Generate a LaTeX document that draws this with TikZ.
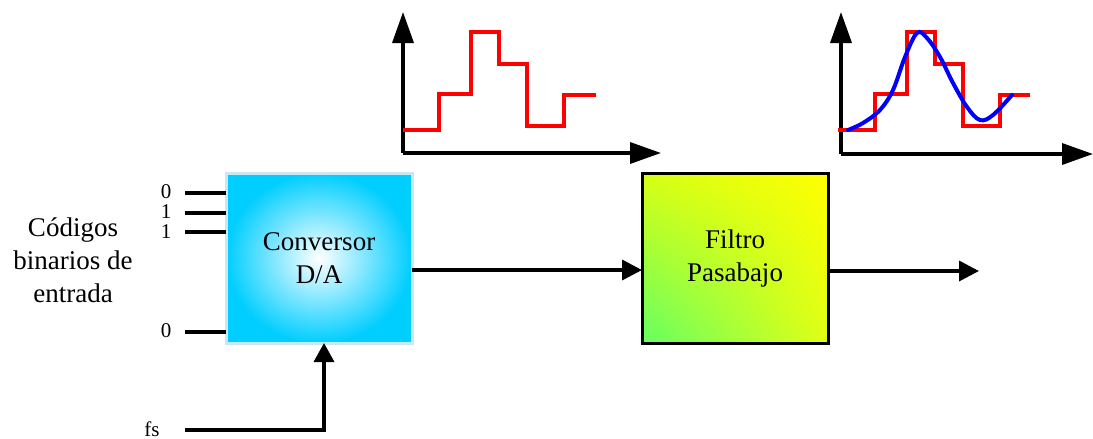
\documentclass[tikz,border=0pt]{standalone}
\usepackage{fontspec}
\setmainfont{Liberation Serif}
\newfontfamily\tnr{Liberation Serif}
\usetikzlibrary{arrows.meta,shadings}
\definecolor{dacblue}{RGB}{0,206,255}
\definecolor{dacedge}{RGB}{200,232,242}
\definecolor{lgreen}{RGB}{100,255,100}
\definecolor{lyel}{RGB}{255,255,0}
\definecolor{ulcol}{RGB}{215,255,20}
\definecolor{lrcol}{RGB}{225,255,20}
\definecolor{sigred}{RGB}{255,0,0}
\definecolor{sigblue}{RGB}{0,0,255}
\tikzset{
  bigtxt/.style={font=\tnr\fontsize{27}{33}\selectfont, align=center},
  smalltxt/.style={font=\tnr\fontsize{21}{22}\selectfont},
  blockbox/.style={minimum width=186pt, minimum height=170pt, inner sep=0pt, outer sep=0pt},
  wire/.style={line width=3.5pt},
  sigarrow/.style={line width=3.5pt, -{Triangle[length=20pt,width=20pt]}},
  axisline/.style={line width=3.5pt, -{Triangle[length=31pt,width=21pt]}},
  redline/.style={line width=3.5pt, sigred, line join=miter},
  blueline/.style={line width=4pt, sigblue, line cap=round}
}
\begin{document}
\begin{tikzpicture}[x=1pt,y=-1pt]
\useasboundingbox (0,0) rectangle (1093,439);
% blocks
\node[blockbox, inner color=white, outer color=dacblue, draw=dacedge, line width=3pt, bigtxt] (dac) at (319,258) {Conversor\\D/A};
\node[blockbox, lower left=lgreen, upper right=lyel, upper left=ulcol, lower right=lrcol, draw=black, line width=3pt, bigtxt] (lpf) at (735,258.5) {Filtro\\Pasabajo};
% left label
\node[bigtxt] (codes) at (73,260) {Códigos\\binarios de\\entrada};
% input bit lines
\node[smalltxt] (l0) at (166,192) {0};
\node[smalltxt] (l1) at (166,212) {1};
\node[smalltxt] (l2) at (166,232) {1};
\node[smalltxt] (l3) at (166,331) {0};
\coordinate (i0) at (185,193);
\coordinate (i1) at (185,213);
\coordinate (i2) at (185,232);
\coordinate (i3) at (185,332);
\draw[wire] (i0) -- (i0 -| dac.west);
\draw[wire] (i1) -- (i1 -| dac.west);
\draw[wire] (i2) -- (i2 -| dac.west);
\draw[wire] (i3) -- (i3 -| dac.west);
% fs
\node[smalltxt] (fs) at (152,429) {fs};
\coordinate (fsl) at (185,430);
\coordinate (fsc) at (324,430);
\draw[line width=3.5pt, -{Triangle[length=19pt,width=20pt]}] (fsl) -- (fsc) -- (fsc |- dac.south);
% signal arrows
\coordinate (m) at (412,270);
\draw[sigarrow] (dac.east |- m) -- (lpf.west |- m);
\coordinate (outend) at (979,271);
\draw[sigarrow] (lpf.east |- outend) -- (outend);
% graph 1
\coordinate (o1) at (403,153);
\coordinate (y1) at (403,12);
\coordinate (x1) at (661,153);
\draw[axisline] (o1) -- (y1);
\draw[axisline] (o1) -- (x1);
\draw[redline] (403,130) -- (439,130) -- (439,94) -- (471,94) -- (471,32) -- (499,32) -- (499,64) -- (527,64) -- (527,126) -- (564,126) -- (564,95) -- (596,95);
% graph 2
\coordinate (o2) at (841,154);
\coordinate (y2) at (841,12);
\coordinate (x2) at (1093,154);
\draw[axisline] (o2) -- (y2);
\draw[axisline] (o2) -- (x2);
\draw[redline] (838,130) -- (875,130) -- (875,94) -- (907,94) -- (907,32) -- (935,32) -- (935,64) -- (963,64) -- (963,126) -- (1000,126) -- (1000,95) -- (1030,95);
\draw[blueline] plot[smooth, tension=0.6] coordinates {(848,130) (863,123) (880,110) (893,90) (905,57) (917,33) (927,38) (940,57) (953,83) (967,107) (980,120) (993,115) (1012,95)};
\end{tikzpicture}
\end{document}
